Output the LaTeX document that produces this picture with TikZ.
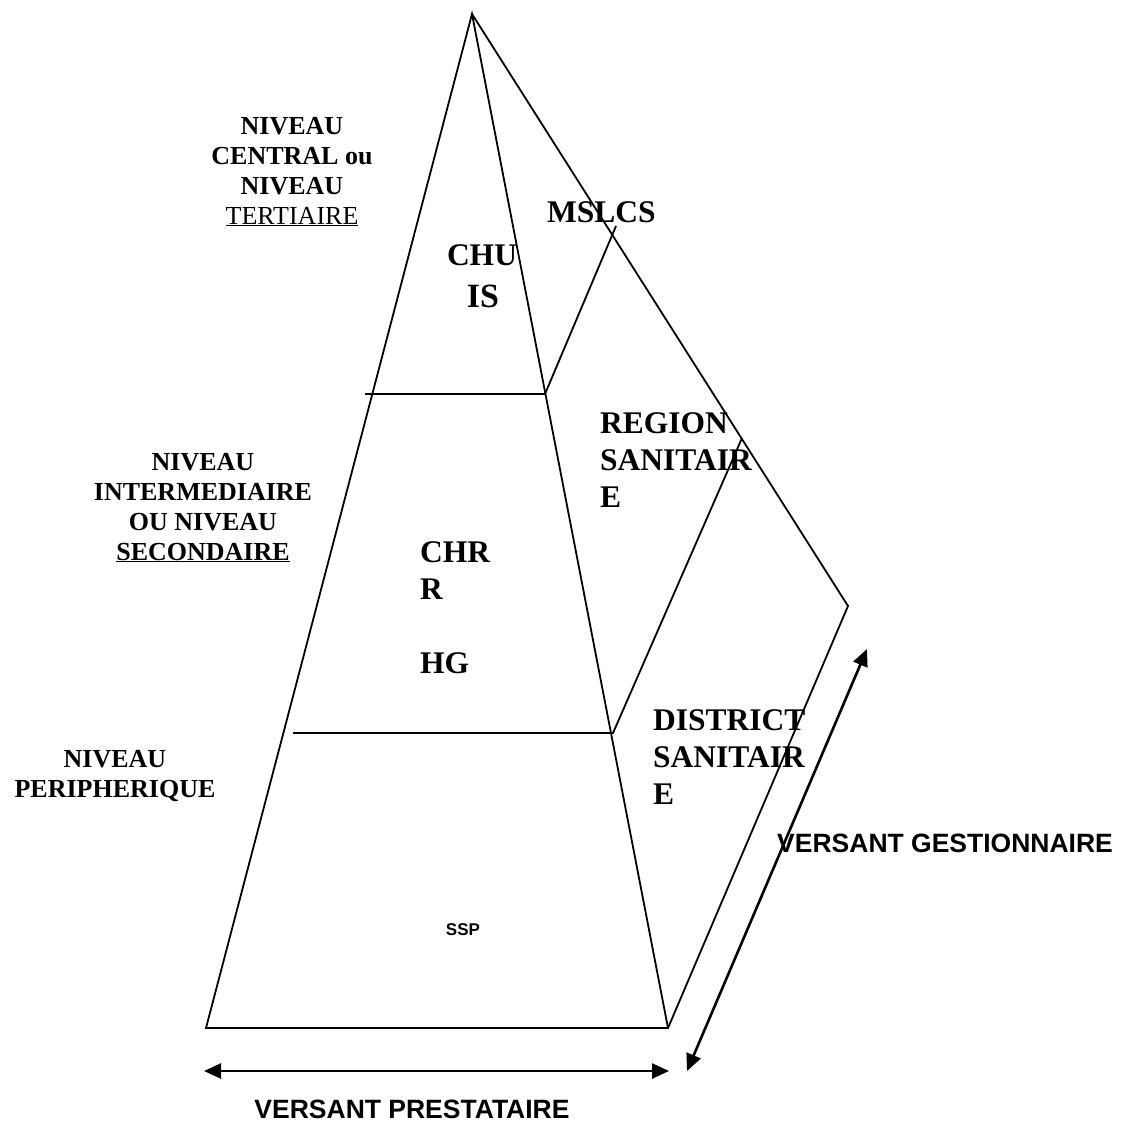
\documentclass[tikz,border=0pt]{standalone}
\usepackage{fontspec}
\setmainfont{Liberation Serif}
\setsansfont{Liberation Sans}
\usetikzlibrary{arrows.meta}

\tikzset{
  arete/.style={line width=1.8pt},
  fleche/.style={line width=2.6pt, {Triangle[length=17pt,width=15pt]}-{Triangle[length=17pt,width=15pt]}},
  niveau/.style={font=\bfseries\fontsize{26}{30}\selectfont, align=center, inner sep=0pt},
  structure/.style={font=\bfseries\fontsize{31.5}{37}\selectfont, align=left, inner sep=0pt},
  versant/.style={font=\sffamily\bfseries\fontsize{26.5}{30}\selectfont, inner sep=0pt}
}

\begin{document}
\begin{tikzpicture}[x=1pt,y=-1pt]
        \useasboundingbox (0,0) rectangle (1122,1122);

        % sommets de la pyramide
        \coordinate (sommet) at (472,14);
        \coordinate (baseG) at (206,1028);
        \coordinate (baseD) at (668,1028);
        \coordinate (arriere) at (848,606);

        \draw[arete] (baseG) -- (sommet) -- (baseD) -- cycle;
        \draw[arete] (sommet) -- (arriere) -- (baseD);

        % niveaux
        \coordinate (n1g) at (365,394);
        \coordinate (n1d) at (545,394);
        \coordinate (n1a) at (616,226);
        \draw[arete] (n1g) -- (n1d) -- (n1a);

        \coordinate (n2g) at (293,733);
        \coordinate (n2d) at (613,733);
        \coordinate (n2a) at (742,438);
        \draw[arete] (n2g) -- (n2d) -- (n2a);

        % textes a gauche (ancre sur la derniere ligne)
        \node[niveau, anchor=base] (central) at (292,224) {NIVEAU\\CENTRAL ou\\NIVEAU\\\mdseries\underline{TERTIAIRE}};
        \node[niveau, anchor=base] (inter) at (203,560) {NIVEAU\\INTERMEDIAIRE\\OU NIVEAU\\\underline{SECONDAIRE}};
        \node[niveau, anchor=base] (peri) at (115,797) {NIVEAU\\PERIPHERIQUE};

        % structures
        \node[structure, anchor=base] (chu) at (482,265) {CHU};
        \node[font=\bfseries\fontsize{34}{40}\selectfont, inner sep=0pt, anchor=base] (is) at (483,307) {IS};
        \node[structure, anchor=base west] (mslcs) at (547,222) {MSLCS};
        \node[structure, anchor=base west] (region) at (600,507) {REGION\\SANITAIR\\E};
        \node[structure, anchor=base west] (chr) at (420,673) {CHR\\R\\\\HG};
        \node[structure, anchor=base west] (district) at (653,804) {DISTRICT\\SANITAIR\\E};
        \node[versant, font=\sffamily\bfseries\fontsize{17}{20}\selectfont, anchor=base] (ssp) at (463,935) {SSP};

        % versants
        \coordinate (pg) at (204,1071);
        \coordinate (pd) at (669,1071);
        \draw[fleche] (pg) -- (pd);
        \node[versant, anchor=base, text depth=0pt] (prest) at (412,1118) {VERSANT PRESTATAIRE};

        \coordinate (gb) at (687,1071);
        \coordinate (gh) at (867,649);
        \draw[fleche] (gb) -- (gh);
        \node[versant, anchor=base west] (gest) at (777,852) {VERSANT GESTIONNAIRE};
\end{tikzpicture}
\end{document}
